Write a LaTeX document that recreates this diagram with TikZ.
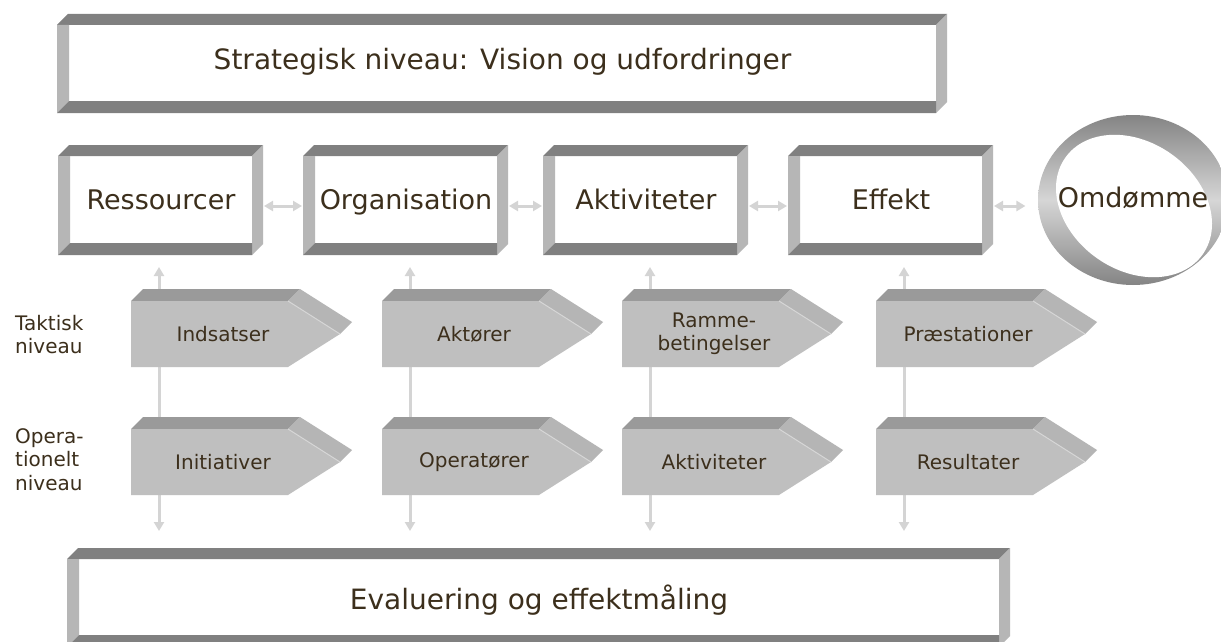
\documentclass[tikz,border=0pt]{standalone}
\usepackage{fontspec}
\setmainfont{DejaVu Sans}
\usetikzlibrary{arrows.meta,calc,positioning,shapes.geometric}
\definecolor{inktext}{RGB}{60,47,28}
\definecolor{bevdark}{RGB}{128,128,128}
\definecolor{bevlight}{RGB}{182,182,182}
\definecolor{tagfront}{RGB}{191,191,191}
\definecolor{tagtop}{RGB}{154,154,154}
\definecolor{tagside}{RGB}{181,181,181}
\definecolor{tagedge}{RGB}{214,214,214}
\definecolor{linkgray}{RGB}{212,212,212}
\definecolor{ringdark}{RGB}{132,132,132}
\definecolor{ringlight}{RGB}{214,214,214}
\tikzset{%
	frontface/.style = {rectangle, fill=white, inner sep=0pt, outer sep=0pt, text=inktext, text depth=0pt},
	levelbox/.style  = {frontface, minimum width=182pt, minimum height=87pt, text height=19pt, font=\fontsize{27}{32}\selectfont},
	widebox/.style   = {frontface, minimum height=76pt, font=\fontsize{28}{33}\selectfont},
	ringlabel/.style = {ellipse, minimum width=190pt, minimum height=170pt, inner sep=0pt, text=inktext, text height=14pt, text depth=0pt, font=\fontsize{27}{32}\selectfont},
	taglabel/.style  = {inner sep=0pt, text=inktext, align=center, font=\fontsize{20}{23.5}\selectfont},
	sidelabel/.style = {inner sep=0pt, anchor=north west, text=inktext, align=left, font=\fontsize{20}{23.5}\selectfont},
	hlink/.style     = {draw=linkgray, line width=3pt, >={Triangle[length=9pt,width=10pt]}, <->, shorten <=12pt, shorten >=13pt},
	vlink/.style     = {hlink, shorten <=28pt, shorten >=24pt},
}
% bevelled frame round the white front face of a node
\newcommand{\framebevel}[1]{%
	\fill[bevdark] ($(#1.north west)+(-12,0)$) -- ($(#1.north west)+(-1,-11)$) -- ($(#1.north east)+(11,-11)$) -- (#1.north east) -- cycle;
	\fill[bevlight] (#1.north east) -- ($(#1.north east)+(11,-11)$) -- ($(#1.south east)+(11,1)$) -- ($(#1.south east)+(0,12)$) -- cycle;
	\fill[bevlight] ($(#1.north west)+(-12,0)$) -- (#1.north west) -- (#1.south west) -- ($(#1.south west)+(-12,12)$) -- cycle;
	\fill[bevdark] ($(#1.south west)+(-12,12)$) -- (#1.south west) -- (#1.south east) -- ($(#1.south east)+(0,12)$) -- cycle;
}
% grey arrow-shaped tag: name, left x, top y, text
\newcommand{\tagshape}[4]{%
	\fill[tagtop] (#2,#3) -- ++(12,-12) -- ++(157,0) -- ++(-12,12) -- cycle;
	\fill[tagside] (#2+157,#3) -- ++(12,-12) -- ++(52,33) -- ++(-12,12) -- cycle;
	\fill[tagfront] (#2,#3) -- ++(157,0) -- ++(52,33) -- ++(-52,33) -- ++(-157,0) -- cycle;
	\draw[tagedge, line width=1pt] (#2+157,#3) -- ++(52,33);
	\node[taglabel] (#1) at (#2+92,#3+33) {#4};
}

\begin{document}
\begin{tikzpicture}[x=1pt, y=-1pt]
	\useasboundingbox[fill=white] (0,0) rectangle (1221,642);
	
	% strategic level and evaluation
	\node[widebox, minimum width=867pt, text height=14pt] (strat) at (502.5,63) {Strategisk niveau: Vision og udfordringer};
	\framebevel{strat}
	\node[widebox, minimum width=920pt, text height=24pt] (eval) at (539,597) {Evaluering og effektmåling};
	\framebevel{eval}
	
	% the four levels
	\node[levelbox] (res) at (161,199.5) {Ressourcer};
	\node[levelbox] (org) at (406,199.5) {Organisation};
	\node[levelbox] (akt) at (646,199.5) {Aktiviteter};
	\node[levelbox] (eff) at (891,199.5) {Effekt};
	\foreach \n in {res,org,akt,eff} {\framebevel{\n}}
	
	% reputation ring
	\shade[top color=ringdark, bottom color=ringdark, middle color=ringlight] (1133,200) ellipse [x radius=95, y radius=85];
	\fill[white, rotate around={-35:(1134,206)}] (1134,206) ellipse [x radius=84, y radius=64];
	\node[ringlabel] (omd) at (1133,200) {Omdømme};
	
	\draw[hlink] ([yshift=-6.5pt]res.east) -- ([yshift=-6.5pt]org.west);
	\draw[hlink] ([yshift=-6.5pt]org.east) -- ([yshift=-6.5pt]akt.west);
	\draw[hlink] ([yshift=-6.5pt]akt.east) -- ([yshift=-6.5pt]eff.west);
	\draw[hlink, shorten >=1pt] ([yshift=-6.5pt]eff.east) -- ([yshift=-6pt]omd.west);
	
	% vertical links behind the tags
	\foreach \x [count=\i] in {159,410,650,904} {\coordinate (v\i) at (\x,0);}
	\draw[vlink] (v1 |- eval.north) -- (v1 |- res.south);
	\draw[vlink] (v2 |- eval.north) -- (v2 |- org.south);
	\draw[vlink] (v3 |- eval.north) -- (v3 |- akt.south);
	\draw[vlink] (v4 |- eval.north) -- (v4 |- eff.south);
	
	% tactical and operational tags
	\tagshape{ind}{131}{301}{Indsatser}
	\tagshape{aktr}{382}{301}{Aktører}
	\tagshape{ramme}{622}{301}{Ramme-\\betingelser}
	\tagshape{praes}{876}{301}{Præstationer}
	\tagshape{ini}{131}{429}{Initiativer}
	\tagshape{oper}{382}{429}{Operatører}
	\tagshape{aktv}{622}{429}{Aktiviteter}
	\tagshape{resu}{876}{429}{Resultater}
	
	\node[sidelabel] (takt) at (15,315) {Taktisk\\niveau};
	\node[sidelabel] (oprt) at (15,428) {Opera-\\tionelt\\niveau};
	
\end{tikzpicture}
\end{document}
